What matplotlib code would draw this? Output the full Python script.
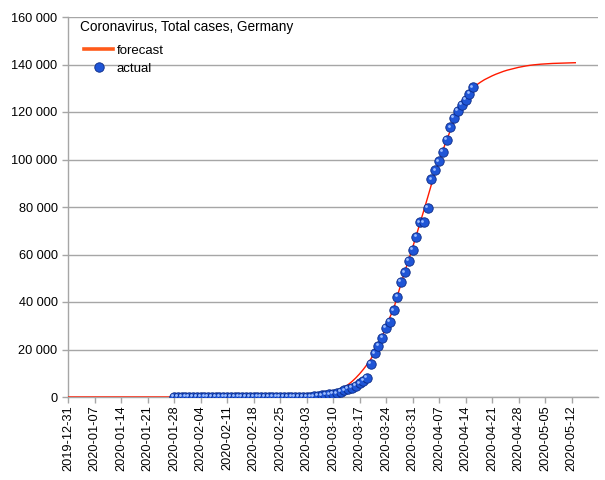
import numpy as np
import pandas as pd
import matplotlib
matplotlib.use("Agg")
import matplotlib.pyplot as plt
import matplotlib.dates as mdates
from matplotlib.lines import Line2D
from matplotlib.transforms import ScaledTranslation

plt.rcParams['font.family'] = ['Liberation Sans', 'DejaVu Sans']

chart_title = "Coronavirus, Total cases, Germany"
series_names = ["forecast", "actual"]

# actual: daily values starting 2020-01-28
actual_start = "2020-01-28"
actual_values = [
    4, 4, 4, 5,
    8, 10, 12, 12, 12, 12, 13, 13, 14, 14, 16, 16, 16, 16, 16, 16, 16, 16, 16, 16,
    16, 16, 16, 16, 16, 18, 21, 26, 57,
    57, 129, 157, 196, 262, 400, 639, 795, 1112, 1296, 1567, 2078, 2745, 3300, 3900,
    4800, 5800, 6900, 8200, 13957, 18323, 21463, 24873, 29056, 31554, 36508, 42288,
    48582, 52547, 57298, 61913,
    67366, 73522, 73522, 79696, 91714, 95391, 99225, 103228, 108202, 113525, 117658,
    120479, 123016, 125098, 127584, 130450,
]

# forecast: a few early anchor points, then daily values from 2020-02-28
forecast_early_dates = ["2019-12-31", "2020-01-28", "2020-02-20"]
forecast_early_values = [0, 0, 20]
forecast_start = "2020-02-28"
forecast_values = [
    40, 70,
    100, 160, 240, 340, 480, 650, 850, 1100, 1400, 1800,
    2400, 3200, 4100, 5200, 6500, 8000, 9700, 11600, 13700, 16000,
    18800, 22000, 25500, 29300, 33500, 37000, 42500, 47800, 53000, 57800,
    62800,
    68000, 73300, 78600, 84000, 89500, 94500, 99300, 103800, 108100, 112200,
    116000, 119500, 122700, 125500, 128000, 130200, 131500, 132600, 133600, 134400,
    135200, 135900, 136500, 137100, 137600, 138000, 138400, 138800, 139100, 139400,
    139650, 139850, 140000, 140150, 140250, 140350, 140450, 140500, 140550, 140600,
    140650, 140700, 140750,
]

y_ticks = [0, 20000, 40000, 60000, 80000, 100000, 120000, 140000, 160000]
x_tick_first = "2019-12-31"
x_tick_last = "2020-05-12"
x_min = "2019-12-31"
x_max = "2020-05-19"

actual_dates = pd.date_range(actual_start, periods=len(actual_values), freq="D")
forecast_dates = list(pd.to_datetime(forecast_early_dates)) + list(
    pd.date_range(forecast_start, periods=len(forecast_values), freq="D"))
forecast_all = list(forecast_early_values) + list(forecast_values)

W, H = 605, 480
fig = plt.figure(figsize=(W / 100, H / 100), dpi=100)
ax = fig.add_axes([68 / W, 1 - 397 / H, 530 / W, 380 / H])

grid_col = "#a6a6a6"
line_col = "#ff1a00"
ball_col = "#1f55d6"
ball_edge = "#0b2a86"
ball_hi = "#9dbdff"

ax.plot(forecast_dates, forecast_all, color=line_col, lw=1.0, zorder=3)
ax.plot(actual_dates, actual_values, ls="none", marker="o", ms=6.8,
        mfc=ball_col, mec=ball_edge, mew=0.6, zorder=4)
hi_off = ax.transData + ScaledTranslation(-1.2 / 72, 1.2 / 72, fig.dpi_scale_trans)
ax.plot(actual_dates, actual_values, ls="none", marker="o", ms=2.0,
        mfc=ball_hi, mec="none", zorder=5, transform=hi_off)

ax.set_xlim(pd.Timestamp(x_min), pd.Timestamp(x_max))
ax.set_ylim(y_ticks[0], y_ticks[-1])
ax.set_yticks(y_ticks)
ax.set_yticklabels([f"{v:,.0f}".replace(",", " ") for v in y_ticks])
xt = pd.date_range(x_tick_first, x_tick_last, freq="7D")
ax.set_xticks(xt)
ax.set_xticklabels([d.strftime("%Y-%m-%d") for d in xt], rotation=90)

for s in ["top", "right"]:
    ax.spines[s].set_visible(False)
for s in ["left", "bottom"]:
    ax.spines[s].set_color(grid_col)
    ax.spines[s].set_linewidth(1.0)
ax.yaxis.grid(True, color=grid_col, lw=1.0)
ax.set_axisbelow(True)
ax.tick_params(axis="both", colors=grid_col, labelcolor="black", length=4, width=1.0)
ax.tick_params(axis="y", labelsize=9.2, pad=3.5)
ax.tick_params(axis="x", labelsize=9.2, pad=2)

fig.text(80 / W, 1 - 31 / H, chart_title, fontsize=9.8, ha="left", va="baseline")

h_line = Line2D([], [], color="#ff5a1a", lw=2.6)
h_ball = Line2D([], [], ls="none", marker="o", ms=6.8, mfc=ball_col, mec=ball_edge, mew=0.6)
leg = fig.legend([h_line, h_ball], series_names, loc="upper left",
                 bbox_to_anchor=(84 / W, 1 - 44.5 / H), bbox_transform=fig.transFigure,
                 frameon=False, fontsize=9.5, handlelength=2.2, handletextpad=0.3,
                 borderpad=0, borderaxespad=0, labelspacing=0.45, numpoints=1)

fig.savefig("out.png", dpi=100)
